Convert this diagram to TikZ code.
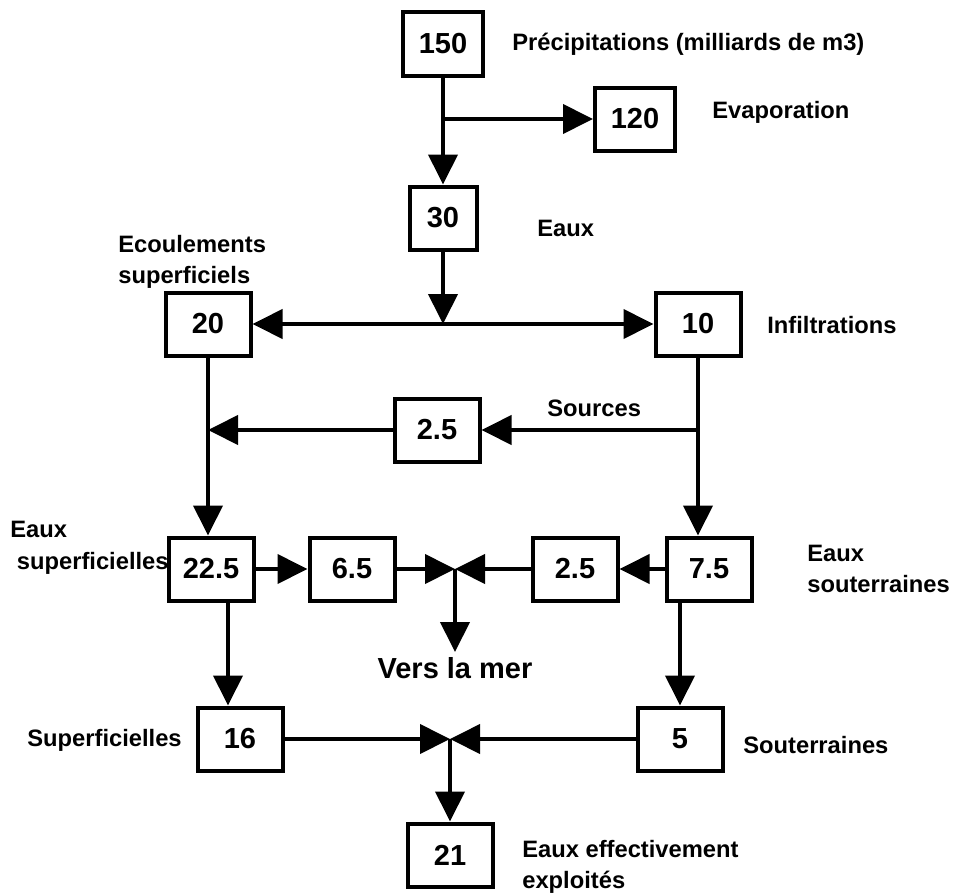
\documentclass[tikz,border=0pt]{standalone}
\usepackage{fontspec}
\setmainfont{Liberation Sans}
\usetikzlibrary{arrows.meta}

\begin{document}
\begin{tikzpicture}[
    x=0.2mm, y=-0.2mm,
    box/.style={draw, line width=0.8mm, minimum width=17mm, minimum height=12.6mm,
      font=\fontsize{16.5}{19}\selectfont\bfseries},
    lbl/.style={font=\fontsize{13.5}{18}\selectfont\bfseries, align=left, inner sep=0pt},
    flow/.style={line width=0.8mm, -{Triangle[length=6mm,width=5.8mm]}},
    flowtwo/.style={line width=0.8mm, {Triangle[length=6mm,width=5.8mm]}-{Triangle[length=6mm,width=5.8mm]}},
  ]
  \useasboundingbox (0,0) rectangle (955,896);

  % boxes
  \node[box, minimum width=16mm] (n150) at (443,44) {150};
  \node[box, minimum width=16mm] (n120) at (635,119) {120};
  \node[box, minimum width=13.4mm] (n30) at (443,218) {30};
  \node[box] (n20) at (208,324) {20};
  \node[box] (n10) at (698,324) {10};
  \node[box] (n25a) at (437,430) {2.5};
  \node[box] (n225) at (211,569) {22.5};
  \node[box] (n65) at (352,569) {6.5};
  \node[box] (n25b) at (575,569) {2.5};
  \node[box] (n75) at (709,569) {7.5};
  \node[box] (n16) at (240,739) {16};
  \node[box] (n5) at (680,739) {5};
  \node[box] (n21) at (450,855) {21};

  % labels
  \node[lbl, anchor=west] (lprec) at (512,44) {Précipitations (milliards de m3)};
  \node[lbl, anchor=west] (levap) at (712,112) {Evaporation};
  \node[lbl, anchor=west] (leaux) at (537,228) {Eaux};
  \node[lbl, anchor=west] (lecoul) at (118,262) {Ecoulements\\superficiels};
  \node[lbl, anchor=west] (lsup) at (10,548) {Eaux\\\ superficielles};
  \node[lbl, anchor=west] (linf) at (767,325) {Infiltrations};
  \node[lbl, anchor=west] (lsrc) at (547,408) {Sources};
  \node[lbl, anchor=west] (lsout) at (807,569) {Eaux\\souterraines};
  \node[font=\fontsize{16.5}{19}\selectfont\bfseries, inner sep=0pt] (mer) at (455,668) {Vers la mer};
  \node[lbl, anchor=east] (lsupf) at (182,740) {Superficielles};
  \node[lbl, anchor=west] (lsoutb) at (743,745) {Souterraines};
  \node[lbl, anchor=west] (lexpl) at (522,867) {Eaux effectivement\\exploités};

  % junctions
  \coordinate (e1) at (n150 |- n120);
  \coordinate (j1) at (n30 |- n20);
  \coordinate (s1) at (n10 |- n25a);
  \coordinate (s2) at (n20 |- n25a);
  \coordinate (m1) at (455,569);
  \coordinate (m2) at (450,739);

  % flows
  \draw[flow] (n150) -- (n150 |- n30.north);
  \draw[flow] (e1) -- (n120);
  \draw[flow] (n30) -- (j1);
  \draw[flowtwo] (n20) -- (n10);
  \draw[flow] (n20) -- (n20 |- n225.north);
  \draw[flow] (n10) -- (n10 |- n75.north);
  \draw[flow] (s1) -- (n25a);
  \draw[flow] (n25a) -- (s2);
  \draw[flow] (n225) -- (n65);
  \draw[flow] (n65) -- (m1);
  \draw[flow] (n75) -- (n25b);
  \draw[flow] (n25b) -- (m1);
  \draw[flow] (m1) -- ([yshift=1mm]mer.north);
  \draw[flow] ([xshift=3.4mm]n225.south) -- ([xshift=3.4mm]n225.south |- n16.north);
  \draw[flow] (n5 |- n75.south) -- (n5.north);
  \draw[flow] (n16) -- (m2);
  \draw[flow] (n5) -- (m2);
  \draw[flow] (m2) -- (n21);
\end{tikzpicture}
\end{document}
